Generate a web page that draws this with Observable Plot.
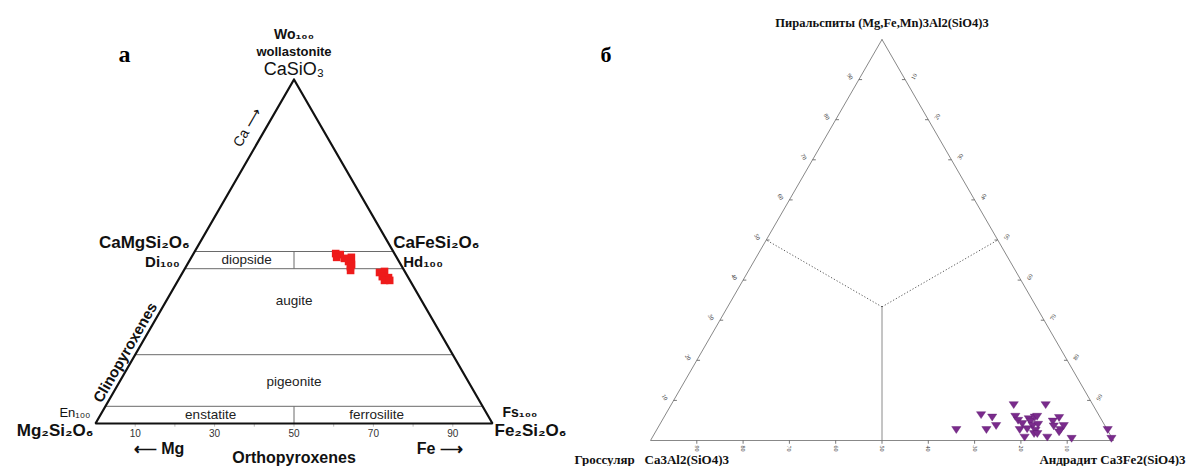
<!DOCTYPE html>
<html><head><meta charset="utf-8">
<script src="https://cdn.jsdelivr.net/npm/d3@7"></script>
<script src="https://cdn.jsdelivr.net/npm/@observablehq/plot@0.6"></script>
<style>
html,body{margin:0;padding:0;background:#fff;}
#wrap{position:relative;width:1187px;height:466px;overflow:hidden;background:#fff;}
</style></head><body><div id="wrap"></div>
<script>
// ===== Panel а: pyroxene quadrilateral (Wo–En–Fs) =====
const pxFieldLinesWo = [50, 45, 20, 5];            // field boundaries, Wo %
const pxDividerSpansWo = [[45, 50], [0, 5]];        // En=Fs dividers, Wo % range
const pxBaseTickValues = [10, 20, 30, 40, 50, 60, 70, 80, 90];
const pxBaseTickLabels = [10, 30, 50, 70, 90];
const pxSampleWo = [49.4, 49.1, 48.3, 48.0, 48.3, 47.1, 46.2, 44.5, 45.6, 43.9, 44.2, 42.7, 42.4, 41.6, 41.6];
const pxSampleFs = [35.8, 37.1, 36.6, 38.7, 40.3, 40.2, 41.4, 42.0, 41.4, 49.6, 50.7, 50.9, 52.6, 52.0, 53.3];

// ===== Panel б: garnets (Grossular–Andradite–Pyralspite) =====
const grtTickValues = [10, 20, 30, 40, 50, 60, 70, 80, 90];
const grtPyralspite = [2.7, 6.4, 2.7, 5.8, 3.7, 8.9, 6.0, 5.0, 2.7, 4.2, 0.8, 5.4, 4.8, 3.7, 5.8, 2.5, 6.0, 4.0, 1.7, 1.7, 2.9, 8.9, 0.8, 4.8, 3.6, 5.7, 2.7, 3.7, 2.1, 0.5, 2.7, 0.5];
const grtAndradite  = [64.7, 68.2, 71.2, 70.9, 72.8, 74.0, 75.8, 76.9, 78.4, 78.2, 80.4, 79.0, 79.7, 80.7, 80.1, 81.9, 80.5, 81.7, 82.0, 82.7, 79.9, 80.9, 85.3, 84.5, 85.3, 85.4, 87.2, 87.4, 87.2, 90.7, 97.4, 99.3];

// ===== helpers =====
const S = Math.sqrt(3) / 2;
const sans = "'Liberation Sans', Arial, Helvetica, sans-serif";
const serif = "'Liberation Serif', 'Times New Roman', serif";
// ternary -> cartesian (top component t, right component r, both in %)
const tx = (t, r) => r / 100 + t / 200;
const ty = (t) => t / 100 * S;
const corners = [[100, 0], [0, 0], [0, 100], [100, 0]]; // [top, right]
const at = (t, r, opts) => Plot.text([opts.text], {x: () => tx(t, r), y: () => ty(t), ...opts, text: d => d});

const triDown = {
  draw(ctx, size) {
    const r = Math.sqrt(size / Math.PI);
    ctx.moveTo(-r * 1.1, -r * 0.75);
    ctx.lineTo(r * 1.1, -r * 0.75);
    ctx.lineTo(0, r * 0.9);
    ctx.closePath();
  }
};

const wrap = document.getElementById("wrap");

// ---------- left panel ----------
const L = {fontFamily: sans, fill: "#111"};
const F = {fontFamily: sans, fill: "#222", fontSize: 13.5};
const left = Plot.plot({
  width: 600, height: 466, margin: 0,
  x: {domain: [0, 1], range: [95, 492], axis: null},
  y: {domain: [0, S], range: [423, 79], axis: null},
  style: {background: "transparent", overflow: "visible", position: "absolute", left: "0px", top: "0px"},
  marks: [
    Plot.link(pxFieldLinesWo, {x1: w => tx(w, 0), x2: w => tx(w, 100 - w), y1: w => ty(w), y2: w => ty(w), stroke: "#6a6a6a", strokeWidth: 1}),
    Plot.link(pxDividerSpansWo, {x1: d => tx(d[0], (100 - d[0]) / 2), x2: d => tx(d[1], (100 - d[1]) / 2), y1: d => ty(d[0]), y2: d => ty(d[1]), stroke: "#6a6a6a", strokeWidth: 1}),
    Plot.link(pxBaseTickValues, {x1: v => tx(0, v), x2: v => tx(0, v), y1: () => 0, y2: () => -0.008, stroke: "#bbb", strokeWidth: 1}),
    Plot.line(corners, {x: d => tx(d[0], d[1]), y: d => ty(d[0]), stroke: "#111", strokeWidth: 2.2, strokeLinejoin: "miter"}),
    Plot.dot(d3.range(pxSampleWo.length), {x: i => tx(pxSampleWo[i], pxSampleFs[i]), y: i => ty(pxSampleWo[i]), symbol: "square", r: 4.3, fill: "#ee1b1b"}),
    // base tick labels
    Plot.text(pxBaseTickLabels, {x: v => tx(0, v), y: () => 0, dy: 10, text: d => String(d), fontFamily: sans, fontSize: 10, fill: "#333"}),
    // apex labels
    at(100, 0, {text: "Wo₁₀₀", dy: -45, fontSize: 14, fontWeight: "bold", ...L}),
    at(100, 0, {text: "wollastonite", dy: -28, fontSize: 13, fontWeight: "bold", ...L}),
    at(100, 0, {text: "CaSiO₃", dy: -10, fontSize: 18, ...L}),
    // side labels
    at(50, 0, {text: "CaMgSi₂O₆", dx: -5, dy: -9, textAnchor: "end", fontSize: 17, fontWeight: "bold", ...L}),
    at(45, 0, {text: "Di₁₀₀", dx: -5, dy: -7, textAnchor: "end", fontSize: 15, fontWeight: "bold", ...L}),
    at(50, 50, {text: "CaFeSi₂O₆", dx: 0, dy: -9, textAnchor: "start", fontSize: 17, fontWeight: "bold", ...L}),
    at(45, 55, {text: "Hd₁₀₀", dx: 0, dy: -7, textAnchor: "start", fontSize: 15, fontWeight: "bold", ...L}),
    // bottom corners
    at(0, 0, {text: "En₁₀₀", dx: -5, dy: -11, textAnchor: "end", fontSize: 13, ...L}),
    at(0, 0, {text: "Mg₂Si₂O₆", dx: -2, dy: 7, textAnchor: "end", fontSize: 17, fontWeight: "bold", ...L}),
    at(0, 100, {text: "Fs₁₀₀", dx: 10, dy: -11, textAnchor: "start", fontSize: 14, fontWeight: "bold", ...L}),
    at(0, 100, {text: "Fe₂Si₂O₆", dx: 2, dy: 7, textAnchor: "start", fontSize: 17, fontWeight: "bold", ...L}),
    // field names
    at(47.5, 14.3, {text: "diopside", ...F}),
    at(35.7, 32.2, {text: "augite", ...F}),
    at(12.2, 43.9, {text: "pigeonite", ...F}),
    at(2.6, 27.7, {text: "enstatite", ...F}),
    at(2.6, 69.5, {text: "ferrosilite", ...F}),
    // axis names
    at(0, 16, {text: "⟵ Mg", dy: 25, fontSize: 16, fontWeight: "bold", ...L}),
    at(0, 86.7, {text: "Fe ⟶", dy: 25, fontSize: 16, fontWeight: "bold", ...L}),
    at(0, 50, {text: "Orthopyroxenes", dy: 34, fontSize: 16, fontWeight: "bold", ...L}),
    at(86, 0, {text: "Ca ⟶", dx: -19, rotate: -60, fontSize: 14, ...L}),
    at(20.6, 0, {text: "Clinopyroxenes", dx: -11, rotate: -60, fontSize: 15, fontWeight: "bold", ...L}),
    // panel letter
    Plot.text(["а"], {frameAnchor: "top-left", dx: 118, dy: 44, text: d => d, fontFamily: serif, fontSize: 24, fontWeight: "bold", fill: "#000"})
  ]
});
wrap.appendChild(left);

// ---------- right panel ----------
const R = {fontFamily: serif, fill: "#111", fontWeight: "bold"};
const T = {fontFamily: serif, fontSize: 6, fill: "#333"};
const grtMid = 100 / 3;
const right = Plot.plot({
  width: 627, height: 466, margin: 0,
  x: {domain: [0, 1], range: [90, 553], axis: null},
  y: {domain: [0, S], range: [440, 39], axis: null},
  style: {background: "transparent", overflow: "visible", position: "absolute", left: "560px", top: "0px"},
  marks: [
    // centroid partition lines
    Plot.link([[0, 50]], {x1: () => tx(grtMid, grtMid), y1: () => ty(grtMid), x2: d => tx(d[0], d[1]), y2: d => ty(d[0]), stroke: "#8a8a8a", strokeWidth: 1}),
    Plot.link([[50, 0], [50, 50]], {x1: () => tx(grtMid, grtMid), y1: () => ty(grtMid), x2: d => tx(d[0], d[1]), y2: d => ty(d[0]), stroke: "#444", strokeWidth: 0.9, strokeDasharray: "1.2,2"}),
    // outline
    Plot.line(corners, {x: d => tx(d[0], d[1]), y: d => ty(d[0]), stroke: "#888", strokeWidth: 1}),
    // ticks: left edge (pyralspite), right edge (andradite), base (grossular)
    Plot.link(grtTickValues, {x1: v => tx(v, 0), x2: v => tx(v, 0) + 0.007, y1: v => ty(v), y2: v => ty(v), stroke: "#555", strokeWidth: 0.8}),
    Plot.link(grtTickValues, {x1: v => tx(100 - v, v), x2: v => tx(100 - v, v) - 0.007, y1: v => ty(100 - v), y2: v => ty(100 - v), stroke: "#555", strokeWidth: 0.8}),
    Plot.link(grtTickValues, {x1: v => tx(0, v), x2: v => tx(0, v), y1: () => 0, y2: () => -0.007, stroke: "#555", strokeWidth: 0.8}),
    Plot.text(grtTickValues, {x: v => tx(v, 0), y: v => ty(v), dx: -9, dy: -3, rotate: 60, text: d => String(d), ...T}),
    Plot.text(grtTickValues, {x: v => tx(100 - v, v), y: v => ty(100 - v), dx: 9, dy: -3, rotate: -60, text: d => String(d), ...T}),
    Plot.text(grtTickValues, {x: v => tx(0, v), y: () => 0, dy: 8, rotate: 90, text: d => String(100 - d), ...T}),
    // samples
    Plot.dot(d3.range(grtPyralspite.length), {x: i => tx(grtPyralspite[i], grtAndradite[i]), y: i => ty(grtPyralspite[i]), symbol: triDown, r: 4.2, fill: "#7a2b8c", stroke: "#5e1a70", strokeWidth: 0.4}),
    // labels
    at(100, 0, {text: "Пиральспиты (Mg,Fe,Mn)3Al2(SiO4)3", dy: -17, fontSize: 12.5, ...R}),
    at(0, 0, {text: "Гроссуляр   Ca3Al2(SiO4)3", dx: -76, dy: 19, textAnchor: "start", fontSize: 13, ...R}),
    at(0, 100, {text: "Андрадит Ca3Fe2(SiO4)3", dx: 72, dy: 19, textAnchor: "end", fontSize: 13, ...R}),
    Plot.text(["б"], {frameAnchor: "top-left", dx: 40, dy: 46, text: d => d, fontFamily: serif, fontSize: 22, fontWeight: "bold", fill: "#000"})
  ]
});
wrap.appendChild(right);
</script></body></html>
